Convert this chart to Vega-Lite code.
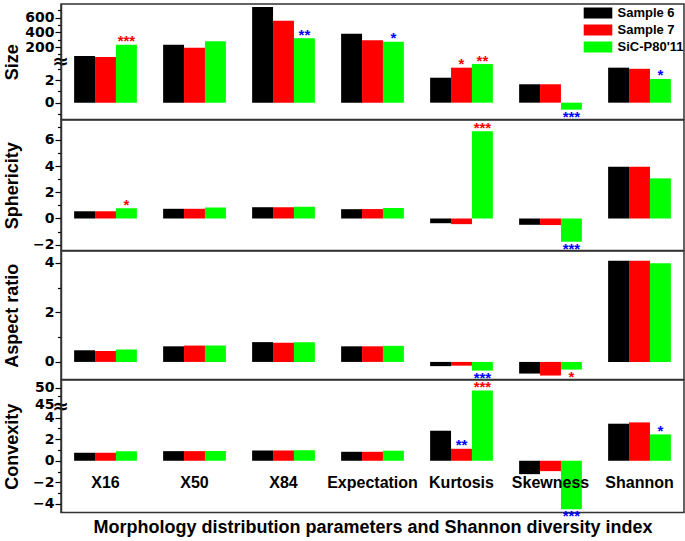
{
  "$schema": "https://vega.github.io/schema/vega-lite/v6.json",
  "padding": {"left": 2, "top": 2, "right": 0, "bottom": 0},
  "autosize": {"type": "pad"},
  "bounds": "flush",
  "spacing": 0,
  "background": "white",
  "config": {
    "view": {"stroke": "#333", "strokeWidth": 1.5},
    "axis": {
      "grid": false,
      "labelFont": "DejaVu Sans", "labelFontWeight": "bold", "labelFontSize": 14, "labelColor": "#000",
      "tickColor": "#000", "tickWidth": 1.2, "domainColor": "#333", "domainWidth": 1.5,
      "titleFont": "Liberation Sans", "titleFontSize": 18, "titleFontWeight": "bold", "titleColor": "#000",
      "labelOverlap": false, "labelFlush": false, "labelBound": false, "labelPadding": 1, "zindex": 1
    }
  },
  "resolve": {"legend": {"color": "independent"}},
  "datasets": {
    "d": [
      {"panel": "Size", "param": "X16", "series": "Sample 6", "value": 77, "star": "", "dir": ""},
      {"panel": "Size", "param": "X16", "series": "Sample 7", "value": 64, "star": "", "dir": ""},
      {"panel": "Size", "param": "X16", "series": "SiC-P80'11", "value": 231, "star": "***", "dir": "up"},
      {"panel": "Size", "param": "X50", "series": "Sample 6", "value": 231, "star": "", "dir": ""},
      {"panel": "Size", "param": "X50", "series": "Sample 7", "value": 190, "star": "", "dir": ""},
      {"panel": "Size", "param": "X50", "series": "SiC-P80'11", "value": 278, "star": "", "dir": ""},
      {"panel": "Size", "param": "X84", "series": "Sample 6", "value": 746, "star": "", "dir": ""},
      {"panel": "Size", "param": "X84", "series": "Sample 7", "value": 559, "star": "", "dir": ""},
      {"panel": "Size", "param": "X84", "series": "SiC-P80'11", "value": 318, "star": "**", "dir": "down"},
      {"panel": "Size", "param": "Expectation", "series": "Sample 6", "value": 382, "star": "", "dir": ""},
      {"panel": "Size", "param": "Expectation", "series": "Sample 7", "value": 291, "star": "", "dir": ""},
      {"panel": "Size", "param": "Expectation", "series": "SiC-P80'11", "value": 272, "star": "*", "dir": "down"},
      {"panel": "Size", "param": "Kurtosis", "series": "Sample 6", "value": 2.21, "star": "", "dir": ""},
      {"panel": "Size", "param": "Kurtosis", "series": "Sample 7", "value": 3.1, "star": "*", "dir": "up"},
      {"panel": "Size", "param": "Kurtosis", "series": "SiC-P80'11", "value": 3.42, "star": "**", "dir": "up"},
      {"panel": "Size", "param": "Skewness", "series": "Sample 6", "value": 1.63, "star": "", "dir": ""},
      {"panel": "Size", "param": "Skewness", "series": "Sample 7", "value": 1.63, "star": "", "dir": ""},
      {"panel": "Size", "param": "Skewness", "series": "SiC-P80'11", "value": -0.62, "star": "***", "dir": "down"},
      {"panel": "Size", "param": "Shannon", "series": "Sample 6", "value": 3.1, "star": "", "dir": ""},
      {"panel": "Size", "param": "Shannon", "series": "Sample 7", "value": 3.0, "star": "", "dir": ""},
      {"panel": "Size", "param": "Shannon", "series": "SiC-P80'11", "value": 2.1, "star": "*", "dir": "down"},

      {"panel": "Sphericity", "param": "X16", "series": "Sample 6", "value": 0.55, "star": "", "dir": ""},
      {"panel": "Sphericity", "param": "X16", "series": "Sample 7", "value": 0.55, "star": "", "dir": ""},
      {"panel": "Sphericity", "param": "X16", "series": "SiC-P80'11", "value": 0.78, "star": "*", "dir": "up"},
      {"panel": "Sphericity", "param": "X50", "series": "Sample 6", "value": 0.74, "star": "", "dir": ""},
      {"panel": "Sphericity", "param": "X50", "series": "Sample 7", "value": 0.74, "star": "", "dir": ""},
      {"panel": "Sphericity", "param": "X50", "series": "SiC-P80'11", "value": 0.84, "star": "", "dir": ""},
      {"panel": "Sphericity", "param": "X84", "series": "Sample 6", "value": 0.86, "star": "", "dir": ""},
      {"panel": "Sphericity", "param": "X84", "series": "Sample 7", "value": 0.86, "star": "", "dir": ""},
      {"panel": "Sphericity", "param": "X84", "series": "SiC-P80'11", "value": 0.89, "star": "", "dir": ""},
      {"panel": "Sphericity", "param": "Expectation", "series": "Sample 6", "value": 0.71, "star": "", "dir": ""},
      {"panel": "Sphericity", "param": "Expectation", "series": "Sample 7", "value": 0.72, "star": "", "dir": ""},
      {"panel": "Sphericity", "param": "Expectation", "series": "SiC-P80'11", "value": 0.8, "star": "", "dir": ""},
      {"panel": "Sphericity", "param": "Kurtosis", "series": "Sample 6", "value": -0.36, "star": "", "dir": ""},
      {"panel": "Sphericity", "param": "Kurtosis", "series": "Sample 7", "value": -0.43, "star": "", "dir": ""},
      {"panel": "Sphericity", "param": "Kurtosis", "series": "SiC-P80'11", "value": 6.66, "star": "***", "dir": "up"},
      {"panel": "Sphericity", "param": "Skewness", "series": "Sample 6", "value": -0.48, "star": "", "dir": ""},
      {"panel": "Sphericity", "param": "Skewness", "series": "Sample 7", "value": -0.5, "star": "", "dir": ""},
      {"panel": "Sphericity", "param": "Skewness", "series": "SiC-P80'11", "value": -1.77, "star": "***", "dir": "down"},
      {"panel": "Sphericity", "param": "Shannon", "series": "Sample 6", "value": 3.95, "star": "", "dir": ""},
      {"panel": "Sphericity", "param": "Shannon", "series": "Sample 7", "value": 3.95, "star": "", "dir": ""},
      {"panel": "Sphericity", "param": "Shannon", "series": "SiC-P80'11", "value": 3.06, "star": "", "dir": ""},

      {"panel": "Aspect", "param": "X16", "series": "Sample 6", "value": 0.47, "star": "", "dir": ""},
      {"panel": "Aspect", "param": "X16", "series": "Sample 7", "value": 0.44, "star": "", "dir": ""},
      {"panel": "Aspect", "param": "X16", "series": "SiC-P80'11", "value": 0.5, "star": "", "dir": ""},
      {"panel": "Aspect", "param": "X50", "series": "Sample 6", "value": 0.63, "star": "", "dir": ""},
      {"panel": "Aspect", "param": "X50", "series": "Sample 7", "value": 0.66, "star": "", "dir": ""},
      {"panel": "Aspect", "param": "X50", "series": "SiC-P80'11", "value": 0.66, "star": "", "dir": ""},
      {"panel": "Aspect", "param": "X84", "series": "Sample 6", "value": 0.8, "star": "", "dir": ""},
      {"panel": "Aspect", "param": "X84", "series": "Sample 7", "value": 0.77, "star": "", "dir": ""},
      {"panel": "Aspect", "param": "X84", "series": "SiC-P80'11", "value": 0.79, "star": "", "dir": ""},
      {"panel": "Aspect", "param": "Expectation", "series": "Sample 6", "value": 0.63, "star": "", "dir": ""},
      {"panel": "Aspect", "param": "Expectation", "series": "Sample 7", "value": 0.63, "star": "", "dir": ""},
      {"panel": "Aspect", "param": "Expectation", "series": "SiC-P80'11", "value": 0.65, "star": "", "dir": ""},
      {"panel": "Aspect", "param": "Kurtosis", "series": "Sample 6", "value": -0.17, "star": "", "dir": ""},
      {"panel": "Aspect", "param": "Kurtosis", "series": "Sample 7", "value": -0.15, "star": "", "dir": ""},
      {"panel": "Aspect", "param": "Kurtosis", "series": "SiC-P80'11", "value": -0.35, "star": "***", "dir": "down"},
      {"panel": "Aspect", "param": "Skewness", "series": "Sample 6", "value": -0.47, "star": "", "dir": ""},
      {"panel": "Aspect", "param": "Skewness", "series": "Sample 7", "value": -0.55, "star": "", "dir": ""},
      {"panel": "Aspect", "param": "Skewness", "series": "SiC-P80'11", "value": -0.31, "star": "*", "dir": "up"},
      {"panel": "Aspect", "param": "Shannon", "series": "Sample 6", "value": 4.09, "star": "", "dir": ""},
      {"panel": "Aspect", "param": "Shannon", "series": "Sample 7", "value": 4.09, "star": "", "dir": ""},
      {"panel": "Aspect", "param": "Shannon", "series": "SiC-P80'11", "value": 3.99, "star": "", "dir": ""},

      {"panel": "Convexity", "param": "X16", "series": "Sample 6", "value": 0.74, "star": "", "dir": ""},
      {"panel": "Convexity", "param": "X16", "series": "Sample 7", "value": 0.74, "star": "", "dir": ""},
      {"panel": "Convexity", "param": "X16", "series": "SiC-P80'11", "value": 0.89, "star": "", "dir": ""},
      {"panel": "Convexity", "param": "X50", "series": "Sample 6", "value": 0.89, "star": "", "dir": ""},
      {"panel": "Convexity", "param": "X50", "series": "Sample 7", "value": 0.89, "star": "", "dir": ""},
      {"panel": "Convexity", "param": "X50", "series": "SiC-P80'11", "value": 0.9, "star": "", "dir": ""},
      {"panel": "Convexity", "param": "X84", "series": "Sample 6", "value": 0.95, "star": "", "dir": ""},
      {"panel": "Convexity", "param": "X84", "series": "Sample 7", "value": 0.95, "star": "", "dir": ""},
      {"panel": "Convexity", "param": "X84", "series": "SiC-P80'11", "value": 0.98, "star": "", "dir": ""},
      {"panel": "Convexity", "param": "Expectation", "series": "Sample 6", "value": 0.83, "star": "", "dir": ""},
      {"panel": "Convexity", "param": "Expectation", "series": "Sample 7", "value": 0.83, "star": "", "dir": ""},
      {"panel": "Convexity", "param": "Expectation", "series": "SiC-P80'11", "value": 0.93, "star": "", "dir": ""},
      {"panel": "Convexity", "param": "Kurtosis", "series": "Sample 6", "value": 2.78, "star": "", "dir": ""},
      {"panel": "Convexity", "param": "Kurtosis", "series": "Sample 7", "value": 1.11, "star": "**", "dir": "down"},
      {"panel": "Convexity", "param": "Kurtosis", "series": "SiC-P80'11", "value": 49.1, "star": "***", "dir": "up"},
      {"panel": "Convexity", "param": "Skewness", "series": "Sample 6", "value": -1.24, "star": "", "dir": ""},
      {"panel": "Convexity", "param": "Skewness", "series": "Sample 7", "value": -0.96, "star": "", "dir": ""},
      {"panel": "Convexity", "param": "Skewness", "series": "SiC-P80'11", "value": -4.48, "star": "***", "dir": "down"},
      {"panel": "Convexity", "param": "Shannon", "series": "Sample 6", "value": 3.43, "star": "", "dir": ""},
      {"panel": "Convexity", "param": "Shannon", "series": "Sample 7", "value": 3.55, "star": "", "dir": ""},
      {"panel": "Convexity", "param": "Shannon", "series": "SiC-P80'11", "value": 2.44, "star": "*", "dir": "down"}
    ]
  },
  "vconcat": [
    {
      "width": 623, "height": 115.5,
      "data": {"name": "d"},
      "transform": [{"filter": "datum.panel == 'Size'"}],
      "encoding": {
        "y": {"field": "value", "type": "quantitative",
          "scale": {"domain": [-1.49, 3.54, 22.8, 787], "range": [115.5, 58.7, 56, 0], "nice": false, "zero": false},
          "axis": {"title": "Size", "titleX": -49, "titleBaseline": "middle",
            "values": [-1, 0, 1, 2, 3, 13, 100, 200, 300, 400, 500, 600, 700],
            "labelExpr": "datum.value == 13 ? '≈' : (indexof([0, 2, 200, 400, 600], datum.value) >= 0 ? datum.label : '')",
            "tickSize": {"condition": [{"test": "datum.value == 13", "value": 0}, {"test": "indexof([0, 2, 200, 400, 600], datum.value) >= 0", "value": 6}], "value": 3.5},
            "labelAlign": {"condition": {"test": "datum.value == 13", "value": "center"}, "value": "right"},
            "labelFontSize": {"condition": {"test": "datum.value == 13", "value": 20}, "value": 14},
            "labelPadding": {"condition": {"test": "datum.value == 13", "value": 1}, "value": 1}}}
      },
      "layer": [
        {"mark": {"type": "bar"},
         "encoding": {
           "x": {"field": "param", "type": "nominal", "sort": ["X16", "X50", "X84", "Expectation", "Kurtosis", "Skewness", "Shannon"], "scale": {"paddingInner": 0.295, "paddingOuter": 0.1475}, "axis": null},
           "xOffset": {"field": "series", "type": "nominal", "sort": ["Sample 6", "Sample 7", "SiC-P80'11"], "scale": {"paddingInner": 0, "paddingOuter": 0}},
           "y2": {"datum": 0},
           "color": {"field": "series", "type": "nominal",
             "scale": {"domain": ["Sample 6", "Sample 7", "SiC-P80'11"], "range": ["#000000", "#ff0000", "#00ff00"]},
             "legend": {"orient": "none", "legendX": 530.5, "legendY": 2.5, "title": null, "padding": 0,
               "symbolType": "M-2.6,-1H2.6V1H-2.6Z", "symbolSize": 121, "symbolStrokeWidth": 0,
               "labelFont": "Liberation Sans", "labelFontWeight": "bold", "labelFontSize": 13, "labelColor": "#000",
               "labelOffset": 13, "rowPadding": 3}}}},
        {"data": {"values": [{}]}, "mark": {"type": "rect", "color": "white"},
         "encoding": {"y": {"datum": 3.54}, "y2": {"datum": 22.8}}},
        {"data": {"values": [{}]}, "mark": {"type": "rule", "color": "#333", "strokeWidth": 1.5},
         "encoding": {"y": {"datum": 0}}},
        {"transform": [{"filter": "datum.star != '' && datum.value >= 0"}],
         "mark": {"type": "text", "font": "Liberation Sans", "fontSize": 15, "fontWeight": "bold", "baseline": "alphabetic", "dy": 1.5},
         "encoding": {
           "x": {"field": "param", "type": "nominal", "sort": ["X16", "X50", "X84", "Expectation", "Kurtosis", "Skewness", "Shannon"]},
           "xOffset": {"field": "series", "type": "nominal", "sort": ["Sample 6", "Sample 7", "SiC-P80'11"]},
           "text": {"field": "star"},
           "fill": {"field": "dir", "type": "nominal", "scale": {"domain": ["up", "down"], "range": ["#ff0000", "#0000ff"]}, "legend": null}}},
        {"transform": [{"filter": "datum.star != '' && datum.value < 0"}],
         "mark": {"type": "text", "font": "Liberation Sans", "fontSize": 15, "fontWeight": "bold", "baseline": "alphabetic", "dy": 12},
         "encoding": {
           "x": {"field": "param", "type": "nominal", "sort": ["X16", "X50", "X84", "Expectation", "Kurtosis", "Skewness", "Shannon"]},
           "xOffset": {"field": "series", "type": "nominal", "sort": ["Sample 6", "Sample 7", "SiC-P80'11"]},
           "text": {"field": "star"},
           "fill": {"field": "dir", "type": "nominal", "scale": {"domain": ["up", "down"], "range": ["#ff0000", "#0000ff"]}, "legend": null}}}
      ]
    },
    {
      "width": 623, "height": 130.5,
      "data": {"name": "d"},
      "transform": [{"filter": "datum.panel == 'Sphericity'"}],
      "encoding": {
        "y": {"field": "value", "type": "quantitative",
          "scale": {"domain": [-2.44, 7.51], "nice": false, "zero": false},
          "axis": {"title": "Sphericity", "titleX": -49, "titleBaseline": "middle",
            "values": [-2, -1, 0, 1, 2, 3, 4, 5, 6, 7],
            "labelExpr": "indexof([-2, 0, 2, 4, 6], datum.value) >= 0 ? datum.label : ''",
            "tickSize": {"condition": {"test": "indexof([-2, 0, 2, 4, 6], datum.value) >= 0", "value": 6}, "value": 3.5}}}
      },
      "layer": [
        {"mark": {"type": "bar"},
         "encoding": {
           "x": {"field": "param", "type": "nominal", "sort": ["X16", "X50", "X84", "Expectation", "Kurtosis", "Skewness", "Shannon"], "scale": {"paddingInner": 0.295, "paddingOuter": 0.1475}, "axis": null},
           "xOffset": {"field": "series", "type": "nominal", "sort": ["Sample 6", "Sample 7", "SiC-P80'11"], "scale": {"paddingInner": 0, "paddingOuter": 0}},
           "y2": {"datum": 0},
           "color": {"field": "series", "type": "nominal",
             "scale": {"domain": ["Sample 6", "Sample 7", "SiC-P80'11"], "range": ["#000000", "#ff0000", "#00ff00"]}, "legend": null}}},
        {"data": {"values": [{}]}, "mark": {"type": "rule", "color": "#333", "strokeWidth": 1.5},
         "encoding": {"y": {"datum": 0}}},
        {"transform": [{"filter": "datum.star != '' && datum.value >= 0"}],
         "mark": {"type": "text", "font": "Liberation Sans", "fontSize": 15, "fontWeight": "bold", "baseline": "alphabetic", "dy": 1.5},
         "encoding": {
           "x": {"field": "param", "type": "nominal", "sort": ["X16", "X50", "X84", "Expectation", "Kurtosis", "Skewness", "Shannon"]},
           "xOffset": {"field": "series", "type": "nominal", "sort": ["Sample 6", "Sample 7", "SiC-P80'11"]},
           "text": {"field": "star"},
           "fill": {"field": "dir", "type": "nominal", "scale": {"domain": ["up", "down"], "range": ["#ff0000", "#0000ff"]}, "legend": null}}},
        {"transform": [{"filter": "datum.star != '' && datum.value < 0"}],
         "mark": {"type": "text", "font": "Liberation Sans", "fontSize": 15, "fontWeight": "bold", "baseline": "alphabetic", "dy": 12},
         "encoding": {
           "x": {"field": "param", "type": "nominal", "sort": ["X16", "X50", "X84", "Expectation", "Kurtosis", "Skewness", "Shannon"]},
           "xOffset": {"field": "series", "type": "nominal", "sort": ["Sample 6", "Sample 7", "SiC-P80'11"]},
           "text": {"field": "star"},
           "fill": {"field": "dir", "type": "nominal", "scale": {"domain": ["up", "down"], "range": ["#ff0000", "#0000ff"]}, "legend": null}}}
      ]
    },
    {
      "width": 623, "height": 128.5,
      "data": {"name": "d"},
      "transform": [{"filter": "datum.panel == 'Aspect'"}],
      "encoding": {
        "y": {"field": "value", "type": "quantitative",
          "scale": {"domain": [-0.71, 4.48], "nice": false, "zero": false},
          "axis": {"title": "Aspect ratio", "titleX": -49, "titleBaseline": "middle",
            "values": [0, 1, 2, 3, 4],
            "labelExpr": "indexof([0, 2, 4], datum.value) >= 0 ? datum.label : ''",
            "tickSize": {"condition": {"test": "indexof([0, 2, 4], datum.value) >= 0", "value": 6}, "value": 3.5}}}
      },
      "layer": [
        {"mark": {"type": "bar"},
         "encoding": {
           "x": {"field": "param", "type": "nominal", "sort": ["X16", "X50", "X84", "Expectation", "Kurtosis", "Skewness", "Shannon"], "scale": {"paddingInner": 0.295, "paddingOuter": 0.1475}, "axis": null},
           "xOffset": {"field": "series", "type": "nominal", "sort": ["Sample 6", "Sample 7", "SiC-P80'11"], "scale": {"paddingInner": 0, "paddingOuter": 0}},
           "y2": {"datum": 0},
           "color": {"field": "series", "type": "nominal",
             "scale": {"domain": ["Sample 6", "Sample 7", "SiC-P80'11"], "range": ["#000000", "#ff0000", "#00ff00"]}, "legend": null}}},
        {"data": {"values": [{}]}, "mark": {"type": "rule", "color": "#333", "strokeWidth": 1.5},
         "encoding": {"y": {"datum": 0}}},
        {"transform": [{"filter": "datum.star != '' && datum.value < 0"}],
         "mark": {"type": "text", "font": "Liberation Sans", "fontSize": 15, "fontWeight": "bold", "baseline": "alphabetic", "dy": 12},
         "encoding": {
           "x": {"field": "param", "type": "nominal", "sort": ["X16", "X50", "X84", "Expectation", "Kurtosis", "Skewness", "Shannon"]},
           "xOffset": {"field": "series", "type": "nominal", "sort": ["Sample 6", "Sample 7", "SiC-P80'11"]},
           "text": {"field": "star"},
           "fill": {"field": "dir", "type": "nominal", "scale": {"domain": ["up", "down"], "range": ["#ff0000", "#0000ff"]}, "legend": null}}}
      ]
    },
    {
      "width": 623, "height": 132.5,
      "data": {"name": "d"},
      "transform": [{"filter": "datum.panel == 'Convexity'"}],
      "encoding": {
        "y": {"field": "value", "type": "quantitative",
          "scale": {"domain": [-4.79, 4.93, 44.76, 52.25], "range": [132.5, 27.5, 25, 0], "nice": false, "zero": false},
          "axis": {"title": "Convexity", "titleX": -49, "titleBaseline": "middle",
            "values": [-4, -3, -2, -1, 0, 1, 2, 3, 4, 24.8, 45, 47.5, 50],
            "labelExpr": "datum.value == 24.8 ? '≈' : (indexof([-4, -2, 0, 2, 4, 45, 50], datum.value) >= 0 ? datum.label : '')",
            "tickSize": {"condition": [{"test": "datum.value == 24.8", "value": 0}, {"test": "indexof([-4, -2, 0, 2, 4, 45, 50], datum.value) >= 0", "value": 6}], "value": 3.5},
            "labelAlign": {"condition": {"test": "datum.value == 24.8", "value": "center"}, "value": "right"},
            "labelFontSize": {"condition": {"test": "datum.value == 24.8", "value": 20}, "value": 14},
            "labelPadding": {"condition": {"test": "datum.value == 24.8", "value": 1}, "value": 1}}}
      },
      "layer": [
        {"mark": {"type": "bar"},
         "encoding": {
           "x": {"field": "param", "type": "nominal", "sort": ["X16", "X50", "X84", "Expectation", "Kurtosis", "Skewness", "Shannon"], "scale": {"paddingInner": 0.295, "paddingOuter": 0.1475},
             "axis": {"orient": "bottom", "ticks": false, "domain": false, "labelPadding": -38, "labelAngle": 0,
               "labelFont": "Liberation Sans", "labelFontSize": 16, "labelFontWeight": "bold",
               "title": "Morphology distribution parameters and Shannon diversity index",
               "titleY": 19.5, "titleBaseline": "alphabetic", "zindex": 1}},
           "xOffset": {"field": "series", "type": "nominal", "sort": ["Sample 6", "Sample 7", "SiC-P80'11"], "scale": {"paddingInner": 0, "paddingOuter": 0}},
           "y2": {"datum": 0},
           "color": {"field": "series", "type": "nominal",
             "scale": {"domain": ["Sample 6", "Sample 7", "SiC-P80'11"], "range": ["#000000", "#ff0000", "#00ff00"]}, "legend": null}}},
        {"data": {"values": [{}]}, "mark": {"type": "rect", "color": "white"},
         "encoding": {"y": {"datum": 4.93}, "y2": {"datum": 44.76}}},
        {"data": {"values": [{}]}, "mark": {"type": "rule", "color": "#333", "strokeWidth": 1.5},
         "encoding": {"y": {"datum": 0}}},
        {"transform": [{"filter": "datum.star != '' && datum.value >= 0"}],
         "mark": {"type": "text", "font": "Liberation Sans", "fontSize": 15, "fontWeight": "bold", "baseline": "alphabetic", "dy": 1.5},
         "encoding": {
           "x": {"field": "param", "type": "nominal", "sort": ["X16", "X50", "X84", "Expectation", "Kurtosis", "Skewness", "Shannon"]},
           "xOffset": {"field": "series", "type": "nominal", "sort": ["Sample 6", "Sample 7", "SiC-P80'11"]},
           "text": {"field": "star"},
           "fill": {"field": "dir", "type": "nominal", "scale": {"domain": ["up", "down"], "range": ["#ff0000", "#0000ff"]}, "legend": null}}},
        {"transform": [{"filter": "datum.star != '' && datum.value < 0"}],
         "mark": {"type": "text", "font": "Liberation Sans", "fontSize": 15, "fontWeight": "bold", "baseline": "alphabetic", "dy": 12},
         "encoding": {
           "x": {"field": "param", "type": "nominal", "sort": ["X16", "X50", "X84", "Expectation", "Kurtosis", "Skewness", "Shannon"]},
           "xOffset": {"field": "series", "type": "nominal", "sort": ["Sample 6", "Sample 7", "SiC-P80'11"]},
           "text": {"field": "star"},
           "fill": {"field": "dir", "type": "nominal", "scale": {"domain": ["up", "down"], "range": ["#ff0000", "#0000ff"]}, "legend": null}}}
      ]
    }
  ]
}
